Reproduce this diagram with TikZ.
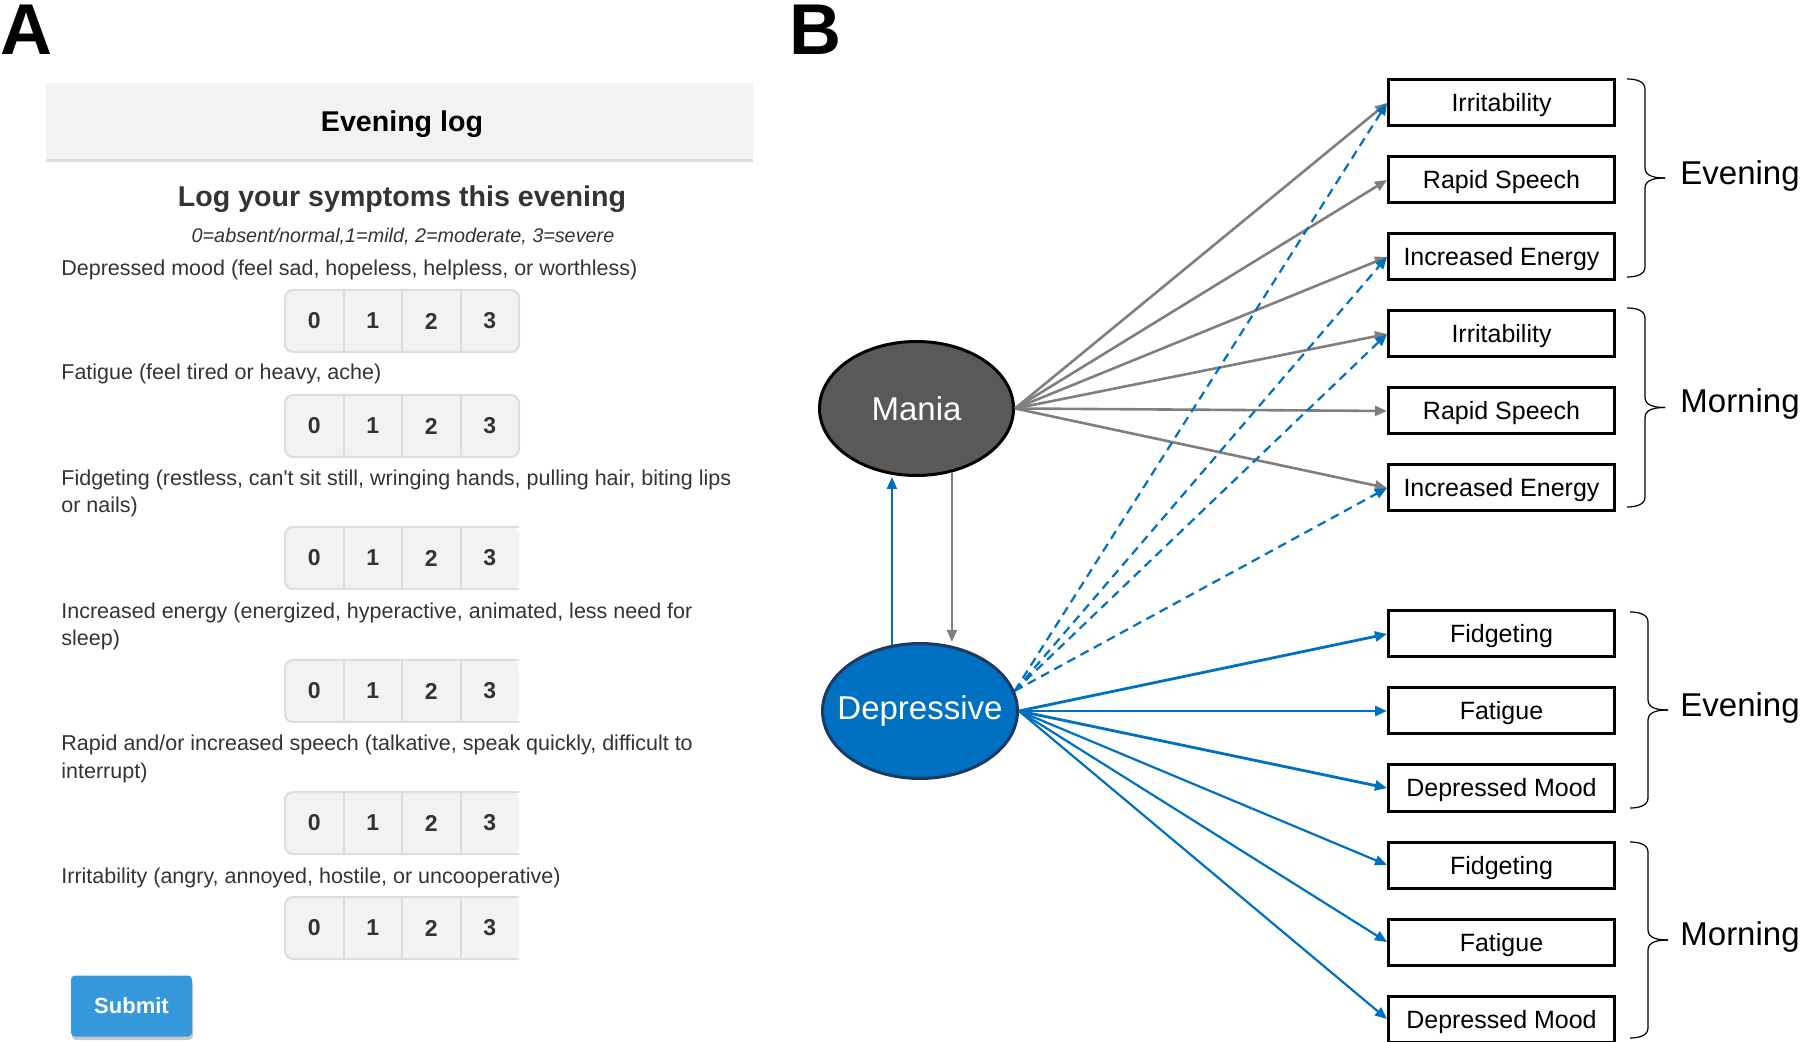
\documentclass[tikz,border=0pt]{standalone}
\usepackage{fontspec}
\setmainfont{Liberation Sans}[Ligatures=TeXOff]
\usetikzlibrary{arrows.meta,shapes.geometric}

\definecolor{txtgray}{HTML}{333333}
\definecolor{panelgray}{HTML}{F2F2F2}
\definecolor{linegray}{HTML}{DDDDDD}
\definecolor{arrgray}{HTML}{7F7F7F}
\definecolor{depblue}{HTML}{0070C0}
\definecolor{depnavy}{HTML}{1F3864}
\definecolor{maniagray}{HTML}{595959}
\definecolor{btnblue}{HTML}{3498DB}

\begin{document}
\begin{tikzpicture}[x=0.5pt, y=-0.5pt,
    txt/.style={inner sep=0, text=txtgray, font=\fontsize{10.75}{13.75}\selectfont, anchor=base west},
    digit/.style={inner sep=0, text=txtgray, font=\fontsize{11.5}{13}\selectfont\bfseries},
    sym/.style={draw, line width=1.5pt, minimum width=113pt, minimum height=23pt, inner sep=0, text height=9.5pt, text depth=0.5pt, font=\fontsize{12.5}{14}\selectfont},
    latent/.style={ellipse, line width=1.5pt, minimum width=97pt, minimum height=67pt, inner sep=0, text=white, font=\fontsize{16.5}{18}\selectfont},
    tip/.style={-{Triangle[length=6pt,width=5pt]}},
    manarr/.style={tip, arrgray, line width=1.3pt},
    deparr/.style={tip, depblue, line width=1.4pt},
    dasharr/.style={tip, depblue, line width=1.1pt, dash pattern=on 4.5pt off 3pt},
    period/.style={anchor=west, inner sep=0, font=\fontsize{16.5}{18}\selectfont},
    panel/.style={anchor=base west, inner sep=0, font=\fontsize{36}{40}\selectfont\bfseries}]
    \useasboundingbox (0,0) rectangle (1800,1042);

    % panel A: the evening log form
    \node[panel] (labA) at (0,55) {A};
    \fill[panelgray] (46,83) rectangle (753,161);
    \draw[linegray, line width=1.5pt] (46,161) -- (753,161);
    \node[anchor=base, inner sep=0, font=\fontsize{14.3}{16}\selectfont\bfseries] (title) at (402,132) {Evening log};
    \node[anchor=base, inner sep=0, text=txtgray, font=\fontsize{14.3}{16}\selectfont\bfseries] (head) at (402,207) {Log your symptoms this evening};
    \node[anchor=base, inner sep=0, text=txtgray, font=\fontsize{9.9}{12}\selectfont\itshape] (scale) at (403,243) {0=absent/normal,1=mild, 2=moderate, 3=severe};

    \node[txt] (qDep) at (61,276) {Depressed mood (feel sad, hopeless, helpless, or worthless)};
    \node[txt] (qFat) at (61,380) {Fatigue (feel tired or heavy, ache)};
    \node[txt] (qFid) at (61,486) {Fidgeting (restless, can't sit still, wringing hands, pulling hair, biting lips};
    \node[txt] (qFidB) at (61,513) {or nails)};
    \node[txt] (qEne) at (61,619) {Increased energy (energized, hyperactive, animated, less need for};
    \node[txt] (qEneB) at (61,646) {sleep)};
    \node[txt] (qRap) at (61,751) {Rapid and/or increased speech (talkative, speak quickly, difficult to};
    \node[txt] (qRapB) at (61,778) {interrupt)};
    \node[txt] (qIrr) at (61,883) {Irritability (angry, annoyed, hostile, or uncooperative)};

    \foreach \gy [count=\g] in {290,395,527,660,792,897} {
        \ifnum\g<3
            \draw[linegray, fill=panelgray, line width=1pt, rounded corners=4pt] (285,\gy) rectangle (519,\gy+62);
        \else
            \fill[panelgray, rounded corners=4pt] (519,\gy) -- (285,\gy) -- (285,\gy+62) -- (519,\gy+62) -- cycle;
            \draw[linegray, line width=1pt, rounded corners=4pt] (519,\gy) -- (285,\gy) -- (285,\gy+62) -- (519,\gy+62);
        \fi
        \foreach \k in {1,2,3} \draw[linegray, line width=1pt] (285+58.5*\k,\gy) -- (285+58.5*\k,\gy+62);
        \foreach \k in {0,1,2,3} \node[digit] (btn\g-\k) at (285+58.5*\k+29.25,\gy+31) {\k};
    }

    \fill[black!22, rounded corners=2pt] (72,980) rectangle (193,1040);
    \node[fill=btnblue, rounded corners=2pt, minimum width=60.5pt, minimum height=30.5pt, inner sep=0, text=white, font=\fontsize{11}{13}\selectfont\bfseries] (submit) at (131.5,1006) {Submit};

    % panel B: the two factors and their indicators
    \node[panel] (labB) at (789,55) {B};
    \node[latent, draw=black, fill=maniagray] (mania) at (916.5,408.5) {\makebox[0pt]{Mania}};
    \node[latent, draw=depnavy, fill=depblue, minimum width=97.5pt, minimum height=67.5pt] (dep) at (920,711) {\makebox[0pt]{Depressive}};

    \foreach \name/\lab/\y in {eIrr/Irritability/103, eRap/Rapid Speech/180, eEne/Increased Energy/257,
        mIrr/Irritability/334, mRap/Rapid Speech/411, mEne/Increased Energy/488,
        eFid/Fidgeting/634, eFat/Fatigue/711, eDep/Depressed Mood/788,
        mFid/Fidgeting/865, mFat/Fatigue/942, mDep/Depressed Mood/1019}
        \node[sym] (\name) at (1501.5,\y) {\lab};

    \foreach \b in {eIrr,eRap,eEne,mIrr,mRap,mEne} \draw[manarr] (mania.east) -- (\b.west);
    \foreach \b in {eIrr,eEne,mIrr,mEne} \draw[dasharr] (dep.12) -- (\b.west);
    \foreach \b in {eFid,eFat,eDep} \draw[deparr] (dep.east) -- (\b.west);
    \foreach \b in {mFid,mFat,mDep} \draw[deparr, line width=1.1pt] (dep.east) -- (\b.west);

    \draw[tip, depblue, line width=1pt] (dep.113) -- (dep.113 |- mania.south);
    \draw[tip, arrgray, line width=1pt] (mania.-61) -- (mania.-61 |- dep.north);

    \foreach \t/\bt/\dx in {79/277/0, 308/507/0, 612/808/3, 842/1038/3} {
        \pgfmathsetmacro\m{(\t+\bt)/2}
        \draw[line width=0.6pt] (1627+\dx,\t) to[out=0,in=90] (1645+\dx,\t+10) -- (1645+\dx,\m-10) to[out=-90,in=180] (1665+\dx,\m);
        \draw[line width=0.6pt] (1627+\dx,\bt) to[out=0,in=-90] (1645+\dx,\bt-10) -- (1645+\dx,\m+10) to[out=90,in=180] (1665+\dx,\m);
    }
    \node[period] (perA) at (1680,176) {Evening};
    \node[period] (perB) at (1680,404) {Morning};
    \node[period] (perC) at (1680,708) {Evening};
    \node[period] (perD) at (1680,937) {Morning};
\end{tikzpicture}
\end{document}
